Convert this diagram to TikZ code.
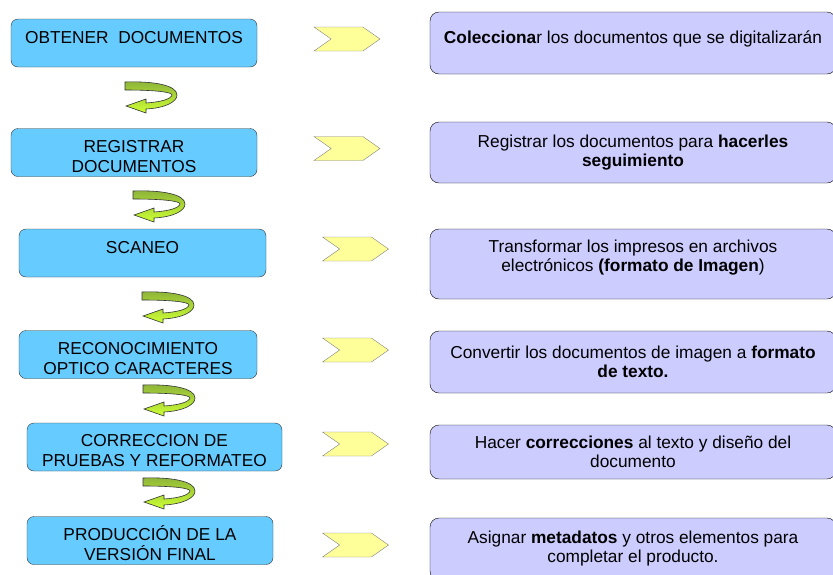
\documentclass[tikz,border=0pt]{standalone}
\usepackage{fontspec}
\setmainfont{Liberation Sans}
\usetikzlibrary{shapes.symbols}
\definecolor{pasoazul}{HTML}{66CCFF}
\definecolor{desclila}{HTML}{CCCCFF}
\definecolor{flechaamarilla}{HTML}{FFFF99}
\definecolor{giroverde}{HTML}{8DB43A}
\definecolor{girolima}{HTML}{CCFF33}
\begin{document}
\begin{tikzpicture}[x=1pt, y=-1pt,
        paso/.style={rectangle, rounded corners=7pt, draw=black!80, fill=pasoazul, minimum height=48pt, inner sep=0pt, align=center, font=\fontsize{17.3}{20}\selectfont, text height=39pt, text depth=0pt},
        unalinea/.style={text height=12pt, text depth=12pt},
        desc/.style={rectangle, rounded corners=9pt, draw=black, fill=desclila, minimum width=406pt, inner sep=0pt, align=center, font=\fontsize{17.3}{19}\selectfont},
        chevron/.style={signal, signal to=east, signal from=west, signal pointer angle=70, draw=black!50, fill=flechaamarilla, minimum width=66pt, minimum height=24pt, inner sep=0pt},
        giro/.pic={
            \draw[draw=black!80, line width=0.6pt, top color=giroverde, bottom color=girolima]
                (0,0) .. controls (28,-1) and (52,3) .. (52,13)
                .. controls (52,20) and (40,26) .. (21,27)
                -- (21,31) -- (1,24) -- (21,17) -- (21,21)
                .. controls (36,20) and (46,17) .. (47,13)
                .. controls (47,10) and (30,8) .. (0,8) -- cycle;
        }
    ]
        \useasboundingbox (0,0) rectangle (833,574);
        \clip (0,0) rectangle (833,574);

        % Pasos del proceso
        \node[paso, unalinea, minimum width=246pt] (obtener) at (134,43) {OBTENER\ \ DOCUMENTOS};
        \node[paso, minimum width=246pt] (registrar) at (134,152.5) {REGISTRAR\\DOCUMENTOS};
        \node[paso, unalinea, minimum width=247pt] (scaneo) at (142.5,253) {SCANEO};
        \node[paso, minimum width=238pt] (ocr) at (138,354.5) {RECONOCIMIENTO\\OPTICO CARACTERES};
        \node[paso, minimum width=255pt] (correccion) at (154.5,447) {CORRECCION DE\\PRUEBAS Y REFORMATEO};
        \node[paso, minimum width=246pt] (produccion) at (150,540.5) {PRODUCCIÓN DE LA\\VERSIÓN FINAL};

        % Flechas entre pasos
        \pic at (125,82) {giro};
        \pic at (133,191) {giro};
        \pic at (142,292) {giro};
        \pic at (143,385) {giro};
        \pic at (143,478) {giro};

        % Chevrons
        \node[chevron] (ch1) at (347,39) {};
        \node[chevron] (ch2) at (347,148.5) {};
        \node[chevron] (ch3) at (355.5,249) {};
        \node[chevron] (ch4) at (355.5,350) {};
        \node[chevron] (ch5) at (355.5,444) {};
        \node[chevron] (ch6) at (355.5,545) {};

        % Descripciones
        \node[desc, unalinea, minimum height=62pt] (d1) at (633,43) {\textbf{Colecciona}r los documentos que se digitalizarán};
        \node[desc, minimum height=61pt] (d2) at (633,152.5) {Registrar los documentos para \textbf{hacerles}\\\textbf{seguimiento}};
        \node[desc, minimum height=70pt, text depth=16pt] (d3) at (633,264) {Transformar los impresos en archivos\\electrónicos \textbf{(formato de Imagen})};
        \node[desc, minimum height=62pt] (d4) at (633,362) {Convertir los documentos de imagen a \textbf{formato}\\\textbf{de texto.}};
        \node[desc, minimum height=54pt] (d5) at (633,452) {Hacer \textbf{correcciones} al texto y diseño del\\documento};
        \node[desc, minimum height=62pt] (d6) at (633,549) {Asignar \textbf{metadatos} y otros elementos para\\completar el producto.};
    \end{tikzpicture}
\end{document}
